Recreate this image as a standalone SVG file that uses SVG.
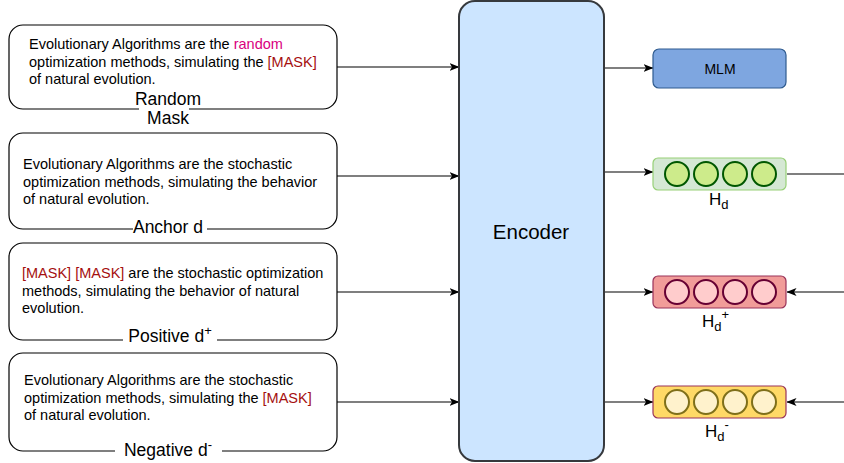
<svg xmlns="http://www.w3.org/2000/svg" width="844" height="463" viewBox="0 0 844 463">
<defs>
<marker id="arr" markerWidth="10" markerHeight="8" refX="9.5" refY="4" orient="auto" markerUnits="userSpaceOnUse">
<path d="M0,0 L10,4 L0,8 L2.5,4 z" fill="#000"/>
</marker>
<style>
.box{fill:#fff;stroke:#000;stroke-width:1.2}
.t{font-family:"Liberation Sans",Arial,sans-serif;font-size:14.5px;fill:#000}
.lbl{font-family:"Liberation Sans",Arial,sans-serif;font-size:17.5px;fill:#000}
.hl{font-family:"Liberation Sans",Arial,sans-serif;font-size:17px;fill:#000}
.sub{font-size:13px}
.mask{fill:#a50f0f}
.rnd{fill:#d9007e}
.c{stroke:#000;stroke-width:1.2;fill:none}
.g{fill:#cdeb8b;stroke:#005700;stroke-width:2}
.p{fill:#ffcccc;stroke:#660033;stroke-width:2}
.y{fill:#fff2cc;stroke:#7f6f1a;stroke-width:2}
</style>
</defs>
<rect width="844" height="463" fill="#fff"/>

<g id="connectors">
<line class="c" x1="337" y1="67" x2="459" y2="67" marker-end="url(#arr)"/>
<line class="c" x1="337" y1="176" x2="459" y2="176" marker-end="url(#arr)"/>
<line class="c" x1="337" y1="292" x2="459" y2="292" marker-end="url(#arr)"/>
<line class="c" x1="337" y1="402" x2="459" y2="402" marker-end="url(#arr)"/>
<line class="c" x1="604" y1="68" x2="653" y2="68" marker-end="url(#arr)"/>
<line class="c" x1="604" y1="172" x2="653" y2="172" marker-end="url(#arr)"/>
<line class="c" x1="604" y1="292" x2="653" y2="292" marker-end="url(#arr)"/>
<line class="c" x1="604" y1="402" x2="653" y2="402" marker-end="url(#arr)"/>
<line class="c" x1="787" y1="174" x2="844" y2="174"/>
<line class="c" x1="844" y1="292" x2="787" y2="292" marker-end="url(#arr)"/>
<line class="c" x1="844" y1="402" x2="787" y2="402" marker-end="url(#arr)"/>
</g>

<g id="random-mask">
<rect class="box" x="9" y="25" width="328" height="84" rx="14"/>
<text class="t" x="29" y="49">Evolutionary Algorithms are the <tspan class="rnd">random</tspan></text>
<text class="t" x="29" y="66.5">optimization methods, simulating the <tspan class="mask">[MASK]</tspan></text>
<text class="t" x="29" y="84">of natural evolution.</text>
<rect x="139" y="104" width="50" height="24" fill="#fff"/>
<text class="lbl" x="168" y="105" text-anchor="middle">Random</text>
<text class="lbl" x="168" y="124" text-anchor="middle">Mask</text>
</g>

<g id="anchor">
<rect class="box" x="9" y="133" width="328" height="96" rx="14"/>
<text class="t" x="23" y="169">Evolutionary Algorithms are the stochastic</text>
<text class="t" x="23" y="186.5">optimization methods, simulating the behavior</text>
<text class="t" x="23" y="204">of natural evolution.</text>
<rect x="133" y="222" width="74" height="14" fill="#fff"/>
<text class="lbl" x="168" y="233" text-anchor="middle">Anchor d</text>
</g>

<g id="positive">
<rect class="box" x="9" y="243" width="328" height="97" rx="14"/>
<text class="t" x="22" y="278"><tspan class="mask">[MASK] [MASK]</tspan> are the stochastic optimization</text>
<text class="t" x="22" y="295.5">methods, simulating the behavior of natural</text>
<text class="t" x="22" y="313">evolution.</text>
<rect x="123" y="333" width="94" height="14" fill="#fff"/>
<text class="lbl" x="170" y="342" text-anchor="middle">Positive d<tspan font-size="13" dy="-7">+</tspan></text>
</g>

<g id="negative">
<rect class="box" x="9" y="353" width="328" height="98" rx="14"/>
<text class="t" x="24" y="385">Evolutionary Algorithms are the stochastic</text>
<text class="t" x="24" y="402.5">optimization methods, simulating the <tspan class="mask">[MASK]</tspan></text>
<text class="t" x="24" y="420">of natural evolution.</text>
<rect x="115" y="444" width="107" height="14" fill="#fff"/>
<text class="lbl" x="168" y="456" text-anchor="middle">Negative d<tspan font-size="13" dy="-7">-</tspan></text>
</g>

<g id="encoder">
<rect x="459" y="1" width="145" height="460" rx="16" fill="#cce5ff" stroke="#36393d" stroke-width="2"/>
<text x="531" y="239" text-anchor="middle" font-family="Liberation Sans, Arial, sans-serif" font-size="20.5">Encoder</text>
</g>

<g id="mlm">
<rect x="653" y="49" width="133" height="39" rx="6" fill="#7ea6e0" stroke="#2f5b8f" stroke-width="1.2"/>
<text x="720" y="74" text-anchor="middle" font-family="Liberation Sans, Arial, sans-serif" font-size="14">MLM</text>
</g>

<g id="hd">
<rect x="653" y="158" width="133" height="32" rx="5" fill="#d5e8d4" stroke="#97d077" stroke-width="1.2"/>
<circle class="g" cx="677" cy="174" r="12"/>
<circle class="g" cx="706" cy="174" r="12"/>
<circle class="g" cx="735" cy="174" r="12"/>
<circle class="g" cx="764" cy="174" r="12"/>
<text class="hl" x="709" y="205">H<tspan class="sub" dy="4">d</tspan></text>
</g>

<g id="hd-plus">
<rect x="653" y="276" width="133" height="32" rx="5" fill="#f19c99" stroke="#99335a" stroke-width="1.2"/>
<circle class="p" cx="677" cy="292" r="12"/>
<circle class="p" cx="706" cy="292" r="12"/>
<circle class="p" cx="735" cy="292" r="12"/>
<circle class="p" cx="764" cy="292" r="12"/>
<text class="hl" x="702" y="327">H<tspan class="sub" dy="4">d</tspan><tspan class="sub" dy="-12">+</tspan></text>
</g>

<g id="hd-minus">
<rect x="653" y="386" width="133" height="32" rx="5" fill="#ffd966" stroke="#99335a" stroke-width="1.2"/>
<circle class="y" cx="677" cy="402" r="12"/>
<circle class="y" cx="706" cy="402" r="12"/>
<circle class="y" cx="735" cy="402" r="12"/>
<circle class="y" cx="764" cy="402" r="12"/>
<text class="hl" x="705" y="437">H<tspan class="sub" dy="4">d</tspan><tspan class="sub" dy="-12">-</tspan></text>
</g>
</svg>
